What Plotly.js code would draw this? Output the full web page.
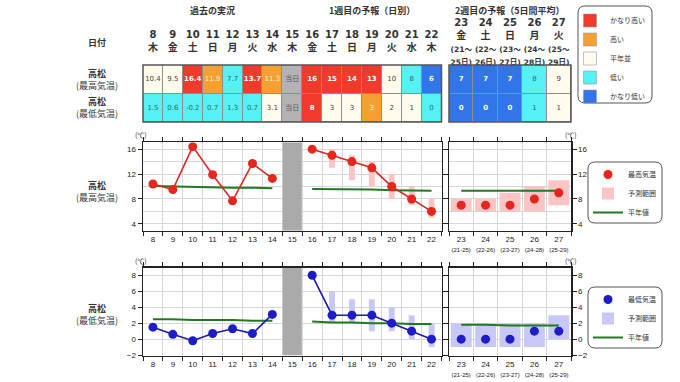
<!DOCTYPE html>
<html><head><meta charset="utf-8">
<script src="https://cdn.plot.ly/plotly-3.0.1.min.js"></script>
<style>html,body{margin:0;padding:0;background:#fff;}#chart{width:680px;height:382px;}</style>
</head><body><div id="chart"></div>
<script>
// ---------------- data ----------------
const daysW1 = ['8','9','10','11','12','13','14','15','16','17','18','19','20','21','22'];
const weekdaysW1 = ['木','金','土','日','月','火','水','木','金','土','日','月','火','水','木'];
const obsDays = ['8','9','10','11','12','13','14'];
const todayDay = ['15'];
const fcDays = ['16','17','18','19','20','21','22'];
const wk2Days = ['23','24','25','26','27'];
const wk2Weekdays = ['金','土','日','月','火'];
const wk2From = ['21','22','23','24','25'];
const wk2To = ['25','26','27','28','29'];

const obsMax = [10.4, 9.5, 16.4, 11.9, 7.7, 13.7, 11.3];
const obsMin = [1.5, 0.6, -0.2, 0.7, 1.3, 0.7, 3.1];
const fcMax = [16, 15, 14, 13, 10, 8, 6];
const fcMaxLow = [null, 13, 11, 10, 8, 7, 5];
const fcMaxHigh = [null, 16, 15, 14, 12, 10, 8];
const fcMin = [8, 3, 3, 3, 2, 1, 0];
const fcMinLow = [null, 2, 2, 1, 1, 0, -1];
const fcMinHigh = [null, 6, 5, 5, 4, 3, 2];
const wk2Max = [7, 7, 7, 8, 9];
const wk2MaxLow = [6, 6, 6, 6, 7];
const wk2MaxHigh = [8, 8, 9, 10, 11];
const wk2Min = [0, 0, 0, 1, 1];
const wk2MinLow = [-1, -1, -1, -1, 0];
const wk2MinHigh = [2, 2, 2, 2, 3];
const normMaxObs = [10.1, 10.0, 10.0, 9.9, 9.8, 9.8, 9.7];
const normMaxFc = [9.6, 9.6, 9.5, 9.5, 9.4, 9.4, 9.3];
const normMaxWk2 = [9.3, 9.3, 9.3, 9.3, 9.3];
const normMinObs = [2.5, 2.5, 2.4, 2.4, 2.4, 2.3, 2.3];
const normMinFc = [2.2, 2.1, 2.1, 2.0, 2.0, 1.9, 1.9];
const normMinWk2 = [1.8, 1.8, 1.7, 1.7, 1.7];

const classMaxW1 = ['normal','normal','vhigh','high','low','vhigh','high','today','vhigh','vhigh','vhigh','vhigh','normal','low','vlow'];
const classMinW1 = ['low','low','low','low','low','low','normal','today','vhigh','normal','normal','high','normal','normal','low'];
const classMaxW2 = ['vlow','vlow','vlow','low','normal'];
const classMinW2 = ['vlow','vlow','vlow','low','normal'];
const classKeys = ['vhigh','high','normal','low','vlow','today'];
const classNames = ['かなり高い','高い','平年並','低い','かなり低い'];
const todayLabel = '当日';

const yRangeMax = [2.9, 17.1];
const yRangeMin = [-2.05, 8.95];

// ---------------- styles ----------------
const colorOf = {vhigh:'#f23a2c', high:'#f5a032', normal:'#fffcee', low:'#55f1f3', vlow:'#3275e8', today:'#b3b3b3'};
const textColorOf = {vhigh:'#ffffff', high:'#fff6d8', normal:'#444444', low:'#2d6b6b', vlow:'#ffffff', today:'#555555'};
const RED = '#e5261d', BLUE = '#1d1dc8', GREEN = '#217a21';
const PINK = '#fbc5c5', LAV = '#c8c8f7', BAND = '#aaaaaa';
const JP = 'Noto Sans CJK JP, sans-serif';
const NUM = 'Liberation Sans, Arial, sans-serif';
const W = 680, H = 382;
const px = v => v / W, py = v => 1 - v / H;

const cs = [];
classKeys.forEach((k, i) => { cs.push([i / 6, colorOf[k]]); cs.push([(i + 1) / 6, colorOf[k]]); });

const fmtObs = v => v.toFixed(1);
const txtMaxW1 = [...obsMax.map(fmtObs), todayLabel, ...fcMax.map(String)];
const txtMinW1 = [...obsMin.map(fmtObs), todayLabel, ...fcMin.map(String)];
const txtMaxW2 = wk2Max.map(String);
const txtMinW2 = wk2Min.map(String);
const strong = c => c === 'vhigh' || c === 'vlow';
const cellText = (t, c) => t.map((s, i) => strong(c[i]) ? '<b>' + s + '</b>' : s);

const sub = (a, b) => a.map((v, i) => (v == null || b[i] == null) ? null : v - b[i]);

const traces = [];
// ---- tables ----
function addTable(xa, days, cMax, cMin, tMax, tMin) {
  traces.push({type:'heatmap', xaxis:xa, yaxis:'y5', x:days, y:[0,1],
    z:[cMax.map(c => classKeys.indexOf(c)), cMin.map(c => classKeys.indexOf(c))],
    zmin:-0.5, zmax:5.5, colorscale:cs, showscale:false, xgap:1, ygap:1, hoverinfo:'skip'});
  traces.push({type:'scatter', mode:'text', xaxis:xa, yaxis:'y5', showlegend:false, hoverinfo:'skip',
    x:[...days, ...days], y:[...days.map(() => 0), ...days.map(() => 1)],
    text:[...cellText(tMax, cMax), ...cellText(tMin, cMin)],
    textfont:{family:'DejaVu Sans, ' + JP, size:7, color:[...cMax, ...cMin].map(c => textColorOf[c])}});
}
addTable('x5', daysW1, classMaxW1, classMinW1, txtMaxW1, txtMinW1);
addTable('x6', wk2Days, classMaxW2, classMinW2, txtMaxW2, txtMinW2);
// table legend entries
classNames.forEach((n, i) => traces.push({type:'scatter', mode:'markers', xaxis:'x5', yaxis:'y5', x:[null], y:[null],
  name:n, legend:'legend', marker:{symbol:'square', size:13, color:colorOf[classKeys[i]], line:{width:0.6, color:'#999'}}}));

// ---- charts ----
function addChart(xa, ya, xb, yb, yr, obs, fc, fcLo, fcHi, w2, w2Lo, w2Hi, nObs, nFc, nW2, lineC, markC, rangeC, lg, name) {
  traces.push({type:'bar', xaxis:xa, yaxis:ya, x:todayDay, base:[yr[0]], y:[yr[1] - yr[0]], width:0.96,
    marker:{color:BAND, line:{width:0}}, showlegend:false, hoverinfo:'skip'});
  traces.push({type:'bar', xaxis:xa, yaxis:ya, x:fcDays, base:fcLo, y:sub(fcHi, fcLo), width:0.3,
    marker:{color:rangeC, line:{width:0}}, showlegend:false, hoverinfo:'skip'});
  traces.push({type:'bar', xaxis:xb, yaxis:yb, x:wk2Days, base:w2Lo, y:sub(w2Hi, w2Lo), width:0.86,
    marker:{color:rangeC, line:{width:0}}, name:'予測範囲', legend:lg, legendrank:2, hoverinfo:'skip'});
  [[xa, ya, obsDays, nObs], [xa, ya, fcDays, nFc], [xb, yb, wk2Days, nW2]].forEach((d, i) =>
    traces.push({type:'scatter', mode:'lines', xaxis:d[0], yaxis:d[1], x:d[2], y:d[3],
      line:{color:GREEN, width:2}, name:'平年値', legend:lg, legendrank:3, showlegend:i === 2, hoverinfo:'skip'}));
  traces.push({type:'scatter', mode:'lines+markers', xaxis:xa, yaxis:ya, x:obsDays, y:obs,
    line:{color:lineC, width:1.6}, marker:{color:markC, size:9}, showlegend:false, hoverinfo:'skip'});
  traces.push({type:'scatter', mode:'lines+markers', xaxis:xa, yaxis:ya, x:fcDays, y:fc,
    line:{color:lineC, width:1.6}, marker:{color:markC, size:9}, showlegend:false, hoverinfo:'skip'});
  traces.push({type:'scatter', mode:'markers', xaxis:xb, yaxis:yb, x:wk2Days, y:w2,
    marker:{color:markC, size:9}, name:name, legend:lg, legendrank:1, hoverinfo:'skip'});
}
addChart('x', 'y', 'x2', 'y2', yRangeMax, obsMax, fcMax, fcMaxLow, fcMaxHigh, wk2Max, wk2MaxLow, wk2MaxHigh,
  normMaxObs, normMaxFc, normMaxWk2, '#d42a22', RED, PINK, 'legend2', '最高気温');
addChart('x3', 'y3', 'x4', 'y4', yRangeMin, obsMin, fcMin, fcMinLow, fcMinHigh, wk2Min, wk2MinLow, wk2MinHigh,
  normMinObs, normMinFc, normMinWk2, '#1a1aa8', BLUE, LAV, 'legend3', '最低気温');

// ---------------- layout ----------------
const domX1 = [px(143), px(441.5)], domX2 = [px(449), px(571)];
const domYMax = [py(230.7), py(142.3)], domYMin = [py(355.5), py(267.7)], domTable = [py(122), py(65)];
const frame = {showline:true, linecolor:'#222', linewidth:1.5, mirror:'ticks', ticks:'outside', ticklen:4,
  tickcolor:'#222', gridcolor:'#d6d6d6', gridwidth:1, zeroline:false, fixedrange:true, tickangle:0,
  tickfont:{family:NUM, size:8, color:'#222'}};
const wk2TickText = wk2Days.map((d, i) => d + '<br><span style="font-size:6px">(' + wk2From[i] + '-' + wk2To[i] + ')</span>');
const xW1 = (anchor) => Object.assign({}, frame, {type:'category', categoryorder:'array', categoryarray:daysW1,
  range:[-0.5, daysW1.length - 0.5], tickson:'boundaries', domain:domX1, anchor:anchor});
const xW2 = (anchor) => Object.assign({}, frame, {type:'category', categoryorder:'array', categoryarray:wk2Days,
  range:[-0.5, wk2Days.length - 0.5], tickson:'boundaries', tickmode:'array', tickvals:wk2Days, ticktext:wk2TickText,
  domain:domX2, anchor:anchor});
const yAx = (anchor, dom, r, side) => Object.assign({}, frame, {domain:dom, anchor:anchor, range:r, side:side,
  tick0:0, dtick:(r[1] - r[0] > 12 ? 4 : 2),
  minor:(r[1] - r[0] > 12 ? {dtick:2, tick0:0, showgrid:true, gridcolor:'#d6d6d6', ticks:''} : undefined)});
const headFont = {family:'DejaVu Sans, ' + JP, size:10, color:'#333', weight:'bold'};

function rr(x0, y0, x1, y1, r) {
  const X = v => px(v), Y = v => py(v);
  return 'M' + X(x0 + r) + ',' + Y(y0) + ' L' + X(x1 - r) + ',' + Y(y0) + ' Q' + X(x1) + ',' + Y(y0) + ' ' + X(x1) + ',' + Y(y0 + r) +
    ' L' + X(x1) + ',' + Y(y1 - r) + ' Q' + X(x1) + ',' + Y(y1) + ' ' + X(x1 - r) + ',' + Y(y1) +
    ' L' + X(x0 + r) + ',' + Y(y1) + ' Q' + X(x0) + ',' + Y(y1) + ' ' + X(x0) + ',' + Y(y1 - r) +
    ' L' + X(x0) + ',' + Y(y0 + r) + ' Q' + X(x0) + ',' + Y(y0) + ' ' + X(x0 + r) + ',' + Y(y0) + ' Z';
}
const boxLine = {color:'#555', width:1};

const ann = [];
const A = (text, x, y, opt) => ann.push(Object.assign({text:text, x:x, y:y, xref:'paper', yref:'paper',
  showarrow:false, xanchor:'center', yanchor:'middle', font:{family:JP, size:9, color:'#333'}}, opt || {}));
A('<b>過去の実況</b>', obsDays.length / 2 - 0.5, py(11), {xref:'x5'});
A('<b>1週目の予報（日別）</b>', daysW1.indexOf(fcDays[3]), py(11), {xref:'x5'});
A('<b>2週目の予報（5日間平均）</b>', 2, py(11), {xref:'x6'});
A('<b>日付</b>', px(97), py(42));
A('<b>高松</b><br>(最高気温)', px(97), py(79));
A('<b>高松</b><br>(最低気温)', px(97), py(107));
A('<b>高松</b><br>(最高気温)', px(97), py(191.5));
A('<b>高松</b><br>(最低気温)', px(97), py(314.5));
[[141, 135], [571, 135], [141, 261], [571, 261]].forEach(p => A('(℃)', px(p[0]), py(p[1]), {font:{family:JP, size:7, color:'#333'}}));

const legFont = {family:JP, size:7, color:'#333'};
const layout = {
  width:W, height:H, margin:{l:0, r:0, t:0, b:0}, paper_bgcolor:'#fff', plot_bgcolor:'#fff',
  barmode:'overlay', showlegend:true, hovermode:false,
  xaxis:xW1('y'), yaxis:yAx('x', domYMax, yRangeMax, 'left'),
  xaxis2:xW2('y2'), yaxis2:yAx('x2', domYMax, yRangeMax, 'right'),
  xaxis3:xW1('y3'), yaxis3:yAx('x3', domYMin, yRangeMin, 'left'),
  xaxis4:xW2('y4'), yaxis4:yAx('x4', domYMin, yRangeMin, 'right'),
  xaxis5:{type:'category', categoryorder:'array', categoryarray:daysW1, range:[-0.5, daysW1.length - 0.5],
    domain:domX1, anchor:'y5', side:'top', showgrid:false, showline:false, ticks:'', zeroline:false, fixedrange:true,
    tickangle:0, tickmode:'array', tickvals:daysW1, ticktext:daysW1.map((d, i) => d + '<br>' + weekdaysW1[i]),
    tickfont:headFont, ticklabelstandoff:11},
  xaxis6:{type:'category', categoryorder:'array', categoryarray:wk2Days, range:[-0.5, wk2Days.length - 0.5],
    domain:domX2, anchor:'y5', side:'top', showgrid:false, showline:false, ticks:'', zeroline:false, fixedrange:true,
    tickangle:0, tickmode:'array', tickvals:wk2Days,
    ticktext:wk2Days.map((d, i) => d + '<br>' + wk2Weekdays[i] + '<br><span style="font-size:7.5px">(' + wk2From[i] + '～</span><br><span style="font-size:7.5px">' + wk2To[i] + '日)</span>'),
    tickfont:headFont, ticklabelstandoff:-3},
  yaxis5:{domain:domTable, anchor:'x5', range:[1.5, -0.5], visible:false, fixedrange:true},
  legend:{x:px(570), y:py(6), xanchor:'left', yanchor:'top', bgcolor:'rgba(0,0,0,0)', borderwidth:0, font:legFont, tracegroupgap:0},
  legend2:{x:px(588), y:py(160), xanchor:'left', yanchor:'top', bgcolor:'rgba(0,0,0,0)', borderwidth:0, font:legFont, traceorder:'normal'},
  legend3:{x:px(588), y:py(285), xanchor:'left', yanchor:'top', bgcolor:'rgba(0,0,0,0)', borderwidth:0, font:legFont, traceorder:'normal'},
  shapes:[
    {type:'rect', xref:'x5 domain', yref:'y5 domain', x0:0, x1:1, y0:0, y1:1, layer:'below', fillcolor:'#8e8e8e', line:{width:0}},
    {type:'rect', xref:'x6 domain', yref:'y5 domain', x0:0, x1:1, y0:0, y1:1, layer:'below', fillcolor:'#8e8e8e', line:{width:0}},
    {type:'rect', xref:'x5 domain', yref:'y5 domain', x0:0, x1:1, y0:0, y1:1, layer:'above', line:{color:'#555', width:1.5}},
    {type:'rect', xref:'x6 domain', yref:'y5 domain', x0:0, x1:1, y0:0, y1:1, layer:'above', line:{color:'#555', width:1.5}},
    {type:'path', xref:'paper', yref:'paper', path:rr(578, 6, 652, 103, 7), line:boxLine},
    {type:'path', xref:'paper', yref:'paper', path:rr(588, 162, 662, 223, 7), line:boxLine},
    {type:'path', xref:'paper', yref:'paper', path:rr(588, 287, 662, 348, 7), line:boxLine}
  ],
  annotations:ann
};
Plotly.newPlot('chart', traces, layout, {displayModeBar:false, staticPlot:true});
</script></body></html>
